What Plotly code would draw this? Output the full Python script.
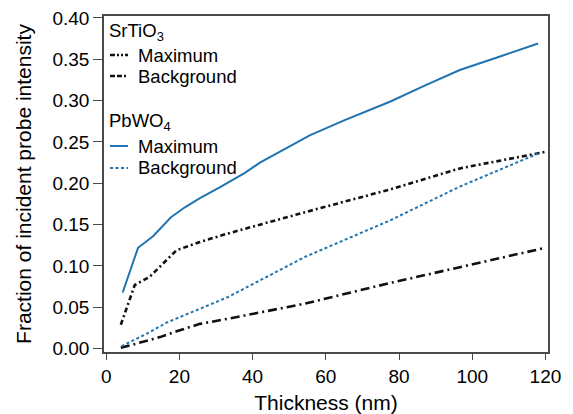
import plotly.graph_objects as go

# Transmitted fraction vs. film thickness (nm)
srtio3_max_x = [4.0, 7.8, 11.9, 15.6, 19.2, 25.6, 33.0, 54.3, 77.5, 96.6, 120.0]
srtio3_max_y = [0.029, 0.077, 0.087, 0.103, 0.119, 0.129, 0.139, 0.165, 0.1925, 0.218, 0.238]

srtio3_bg_x = [4.0, 9.2, 14.7, 19.2, 25.6, 33.0, 54.3, 77.5, 96.6, 120.0]
srtio3_bg_y = [0.001, 0.007, 0.014, 0.021, 0.030, 0.036, 0.0545, 0.0794, 0.0988, 0.122]

pbwo4_max_x = [4.5, 8.7, 12.8, 17.7, 21.5, 25.6, 31.0, 37.9, 42.0, 50.0, 55.6, 65.0, 77.5, 87.0, 96.6, 108.0, 118.0]
pbwo4_max_y = [0.068, 0.122, 0.136, 0.159, 0.171, 0.182, 0.195, 0.2126, 0.225, 0.244, 0.258, 0.276, 0.2986, 0.318, 0.337, 0.354, 0.369]

pbwo4_bg_x = [4.2, 7.4, 11.9, 16.5, 25.0, 33.3, 54.3, 77.5, 96.6, 118.0]
pbwo4_bg_y = [0.003, 0.010, 0.020, 0.0315, 0.047, 0.0625, 0.111, 0.155, 0.196, 0.236]

x_ticks = [0, 20, 40, 60, 80, 100, 120]
y_ticks = [0.00, 0.05, 0.10, 0.15, 0.20, 0.25, 0.30, 0.35, 0.40]
y_tick_text = [f"{v:.2f}" for v in y_ticks]

BLUE = "#1f74b1"
BLACK = "#111111"
AXIS = "#4a4a4a"
FONT = "Liberation Sans"

DASH_MAX = "5px,3px,2px,3px"
DASH_BG = "9px,4px,2px,4px"
DOT_BLUE = "3px,2.5px"

fig = go.Figure()
fig.add_trace(go.Scatter(x=srtio3_max_x, y=srtio3_max_y, mode="lines",
                         line=dict(color=BLACK, width=2.6, dash=DASH_MAX)))
fig.add_trace(go.Scatter(x=srtio3_bg_x, y=srtio3_bg_y, mode="lines",
                         line=dict(color=BLACK, width=2.6, dash=DASH_BG)))
fig.add_trace(go.Scatter(x=pbwo4_max_x, y=pbwo4_max_y, mode="lines",
                         line=dict(color=BLUE, width=2)))
fig.add_trace(go.Scatter(x=pbwo4_bg_x, y=pbwo4_bg_y, mode="lines",
                         line=dict(color=BLUE, width=2, dash=DOT_BLUE)))

W, H = 573, 414
L, R, T, B = 104, 25, 16, 62
pw, ph = W - L - R, H - T - B


def px(xp):
    return (xp - L) / pw


def py(yp):
    return 1 - (yp - T) / ph


# Hand-drawn key: group headings, line samples and labels
key_rows = [
    ("head", "SrTiO<sub>3</sub>", 32, None),
    ("item", "Maximum", 55, dict(color=BLACK, width=2.4, dash="5px,2px,2px,2px,2px,2px")),
    ("item", "Background", 76, dict(color=BLACK, width=2.4, dash="5px,2px,5px,2px,2px,2px")),
    ("head", "PbWO<sub>4</sub>", 122, None),
    ("item", "Maximum", 146, dict(color=BLUE, width=2)),
    ("item", "Background", 168, dict(color=BLUE, width=2, dash="3px,2.5px")),
]
for kind, text, yc, style in key_rows:
    if kind == "head":
        fig.add_annotation(x=px(107), y=py(yc), xref="paper", yref="paper",
                           text=text, showarrow=False, xanchor="left", yanchor="middle",
                           font=dict(family=FONT, size=18.5, color="black"))
    else:
        fig.add_shape(type="line", xref="paper", yref="paper",
                      x0=px(110), x1=px(128), y0=py(yc), y1=py(yc), line=style)
        fig.add_annotation(x=px(136), y=py(yc), xref="paper", yref="paper",
                           text=text, showarrow=False, xanchor="left", yanchor="middle",
                           font=dict(family=FONT, size=18.5, color="black"))

axis_common = dict(showline=True, linecolor=AXIS, linewidth=1.5, mirror=True,
                   ticks="outside", tickcolor=AXIS, tickwidth=1.3, showgrid=False,
                   zeroline=False, automargin=False,
                   tickfont=dict(family=FONT, size=19, color="black"))

fig.update_layout(
    width=W, height=H,
    margin=dict(l=L, r=R, t=T, b=B),
    paper_bgcolor="white", plot_bgcolor="white",
    showlegend=False,
    xaxis=dict(range=[-0.6, 120.7], tickvals=x_ticks, ticklen=6,
               title=dict(text="Thickness (nm)", font=dict(family=FONT, size=21, color="black"),
                          standoff=14),
               **axis_common),
    yaxis=dict(range=[-0.004, 0.4023], tickvals=y_ticks, ticktext=y_tick_text, ticklen=9,
               title=dict(text="Fraction of incident probe intensity",
                          font=dict(family=FONT, size=21, color="black"), standoff=15),
               **axis_common),
)

fig.write_html("out.html")
